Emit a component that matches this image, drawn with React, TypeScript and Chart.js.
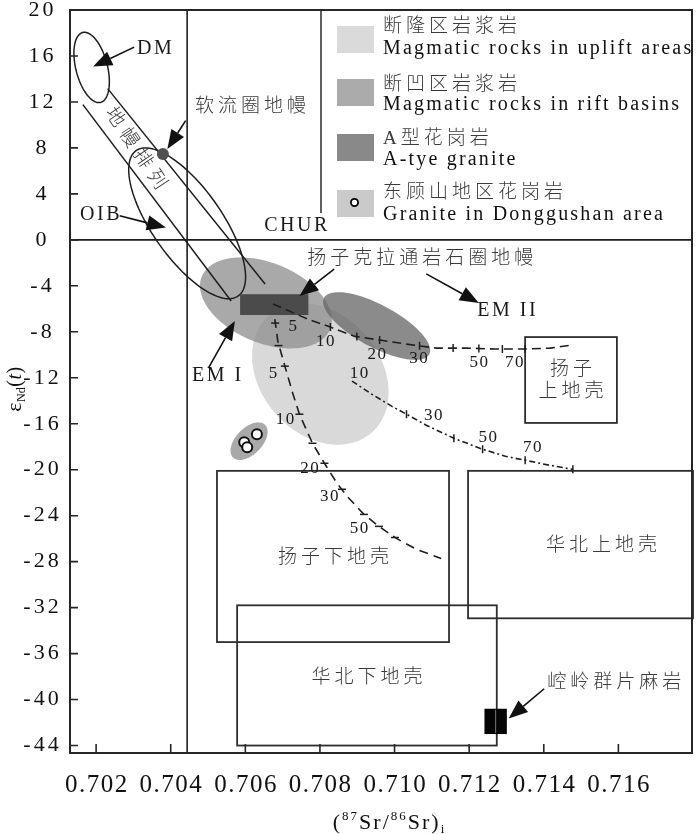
import React, { useEffect, useRef } from 'react';
import { Chart, registerables } from 'chart.js';
Chart.register(...registerables);

// ---------- axes ----------
const X_MIN = 0.7013;
const X_MAX = 0.718;
const Y_MIN = -44.65;
const Y_MAX = 20;
const xTickValues = [0.702, 0.704, 0.706, 0.708, 0.71, 0.712, 0.714, 0.716];
const xTickLabels = ['0.702', '0.704', '0.706', '0.708', '0.710', '0.712', '0.714', '0.716'];
const yTickValues = [-44, -40, -36, -32, -28, -24, -20, -16, -12, -8, -4, 0, 4, 8, 12, 16, 20];
const yTickLabels = ['-44', '-40', '-36', '-32', '-28', '-24', '-20', '-16', '-12', '-8', '-4', '0', '4', '8', '12', '16', '20'];

// ---------- reference lines ----------
const bulkEarthSr = 0.70444;
const churNd = 0;

// ---------- fields: ellipses [cx, cy, majorEndX, majorEndY, minorEndX, minorEndY] ----------
const upliftEllipse = [0.70801, -11.68, 0.7094, -16.74, 0.7092, -8.19];
const riftEllipse = [0.70655, -5.49, 0.70827, -7.78, 0.70695, -2.26];
const aTypeEllipse = [0.70952, -7.5, 0.71093, -9.96, 0.70979, -5.88];
const donggushanEllipse = [0.7061, -17.52, 0.70653, -16.1, 0.70635, -18.33];
const dmEllipse = [0.70188, 15.0, 0.70212, 11.96, 0.70229, 15.34];
const oibEllipse = [0.70444, 1.44, 0.70581, -4.88, 0.7052, 3.21];

// mantle array band lines [x1, y1, x2, y2]
const mantleArrayLine1 = [0.701645, 11.77, 0.70562, -5.32];
const mantleArrayLine2 = [0.70231, 13.16, 0.70653, -3.84];

// ---------- rectangles [x1, y1, x2, y2] ----------
const yangtzeLithMantle = [0.70586, -4.73, 0.70769, -6.54];
const yangtzeUpperCrust = [0.7135, -8.46, 0.71596, -15.93];
const yangtzeLowerCrust = [0.70524, -20.1, 0.71146, -35.0];
const northChinaUpperCrust = [0.71197, -20.1, 0.718, -32.93];
const northChinaLowerCrust = [0.70578, -31.8, 0.71274, -44.0];
const konglingGneiss = [0.71241, -40.8, 0.71301, -43.0];

// ---------- samples ----------
const donggushanX = [0.70597, 0.70605, 0.70631];
const donggushanY = [-17.61, -18.05, -16.91];
const asthenosphereX = [0.70379];
const asthenosphereY = [7.47];

// ---------- mixing curves ----------
const curve1X = [0.70674, 0.70767, 0.70828, 0.70891, 0.7096, 0.71032, 0.71112, 0.71191, 0.71271, 0.7135, 0.71417, 0.71475];
const curve1Y = [-5.58, -6.89, -7.59, -8.37, -8.72, -9.07, -9.42, -9.42, -9.5, -9.5, -9.42, -9.15];
const curve1TickX = [0.70828, 0.70899, 0.7096, 0.71067, 0.71157, 0.71226, 0.71289, 0.7135];
const curve1TickY = [-7.59, -8.41, -8.72, -9.22, -9.42, -9.46, -9.5, -9.5];
const curve1Labels = ['5', '10', '20', '30', '50', '70'];
const curve1LabelX = [0.70727, 0.70814, 0.70952, 0.71064, 0.71226, 0.71321];
const curve1LabelY = [-7.5, -8.89, -9.94, -10.29, -10.68, -10.68];

const curve2X = [0.70679, 0.70687, 0.70706, 0.70727, 0.70745, 0.7078, 0.70812, 0.70846, 0.70873, 0.70918, 0.70958, 0.71005, 0.71059, 0.71125];
const curve2Y = [-6.89, -8.81, -10.99, -13.34, -15.17, -17.7, -19.44, -21.19, -22.32, -23.89, -24.93, -25.98, -26.94, -27.72];
const curve2TickX = [0.7068, 0.70689, 0.70706, 0.70745, 0.7078, 0.70812, 0.70859, 0.70918, 0.70958, 0.71001];
const curve2TickY = [-7.24, -9.2, -10.99, -15.17, -17.7, -19.44, -21.7, -23.89, -24.93, -25.9];
const curve2Labels = ['5', '10', '20', '30', '50'];
const curve2LabelX = [0.70674, 0.70706, 0.70772, 0.70825, 0.70905];
const curve2LabelY = [-11.6, -15.61, -19.88, -22.32, -25.11];

const curve3X = [0.70886, 0.70939, 0.70992, 0.71032, 0.71085, 0.71159, 0.71236, 0.71297, 0.7135, 0.71417, 0.71478];
const curve3Y = [-12.29, -13.43, -14.47, -15.17, -16.13, -17.26, -18.22, -18.83, -19.18, -19.62, -19.97];
const curve3TickX = [0.71032, 0.71159, 0.71236, 0.7135, 0.71478];
const curve3TickY = [-15.17, -17.26, -18.22, -19.18, -19.97];
const curve3Labels = ['10', '30', '50', '70'];
const curve3LabelX = [0.70905, 0.71104, 0.7125, 0.71369];
const curve3LabelY = [-11.6, -15.3, -17.2, -18.1];

// ---------- annotations ----------
const annotTexts = ['DM', '软流圈地幔', 'OIB', 'CHUR', '扬子克拉通岩石圈地幔', 'EM II', 'EM I', '扬子', '上地壳', '扬子下地壳', '华北上地壳', '华北下地壳', '崆岭群片麻岩'];
const annotX = [0.70356, 0.70614, 0.7021, 0.70735, 0.71069, 0.713, 0.70523, 0.71473, 0.71473, 0.70836, 0.71555, 0.70926, 0.71589];
const annotY = [16.65, 11.6, 2.22, 1.22, -1.66, -6.19, -11.86, -11.29, -13.25, -27.72, -26.68, -38.1, -38.54];
const bandLabel = '地幔排列';
const bandLabelX = 0.70305;
const bandLabelY = 7.93;

const arrowFromX = [0.70302, 0.7044, 0.70263, 0.70838, 0.70501, 0.71085, 0.71401];
const arrowFromY = [16.77, 10.37, 2.09, -2.55, -11.16, -2.96, -39.06];
const arrowToX = [0.70192, 0.70391, 0.70387, 0.70745, 0.70572, 0.71226, 0.71306];
const arrowToY = [15.08, 7.91, 1.07, -4.88, -7.06, -5.49, -41.65];

// ---------- legend ----------
const legendZh = ['断隆区岩浆岩', '断凹区岩浆岩', 'A型花岗岩', '东顾山地区花岗岩'];
const legendEn = ['Magmatic rocks in uplift areas', 'Magmatic rocks in rift basins', 'A-tye granite', 'Granite in Donggushan area'];
const legendColors = ['#dadada', '#ababab', '#898989', '#cacaca'];

const FONT = '"Liberation Serif", "Noto Sans CJK SC", serif';

function isCJK(s: string) {
  return /[\u4e00-\u9fff]/.test(s);
}

function drawText(ctx: any, s: string, x: number, y: number, o: any = {}) {
  ctx.save();
  const size = o.size || 20;
  ctx.font = `${o.style || ''} ${o.weight || ''} ${size}px ${FONT}`;
  const sp = o.spacing ?? 0;
  if ('letterSpacing' in ctx) ctx.letterSpacing = sp + 'px';
  ctx.fillStyle = o.color || '#1a1a1a';
  ctx.textAlign = o.align || 'center';
  ctx.textBaseline = o.baseline || 'middle';
  ctx.translate(x, y);
  if (o.rotate) ctx.rotate(o.rotate);
  ctx.fillText(s, (o.align || 'center') === 'center' ? sp / 2 : 0, 0);
  ctx.restore();
}

const ZH = { size: 19, spacing: 4, color: '#3a3a3a', weight: '300' };

function ellipsePath(ctx: any, e: number[], px: any, py: any) {
  const cx = px(e[0]);
  const cy = py(e[1]);
  const ux = px(e[2]) - cx;
  const uy = py(e[3]) - cy;
  const vx = px(e[4]) - cx;
  const vy = py(e[5]) - cy;
  ctx.beginPath();
  const n = 120;
  for (let i = 0; i <= n; i++) {
    const t = (i / n) * Math.PI * 2;
    const X = cx + ux * Math.cos(t) + vx * Math.sin(t);
    const Y = cy + uy * Math.cos(t) + vy * Math.sin(t);
    if (i === 0) ctx.moveTo(X, Y);
    else ctx.lineTo(X, Y);
  }
  ctx.closePath();
}

function drawArrow(ctx: any, x1: number, y1: number, x2: number, y2: number) {
  const ang = Math.atan2(y2 - y1, x2 - x1);
  const L = 19;
  const W = 7.5;
  const bx = x2 - L * Math.cos(ang);
  const by = y2 - L * Math.sin(ang);
  ctx.beginPath();
  ctx.moveTo(x1, y1);
  ctx.lineTo(bx, by);
  ctx.stroke();
  ctx.beginPath();
  ctx.moveTo(x2, y2);
  ctx.lineTo(bx - W * Math.sin(ang), by + W * Math.cos(ang));
  ctx.lineTo(bx + W * Math.sin(ang), by - W * Math.cos(ang));
  ctx.closePath();
  ctx.fill();
}

const diagramPlugin = {
  id: 'diagram',
  beforeDatasetsDraw(chart: any) {
    const { ctx, scales, chartArea: a } = chart;
    const px = (v: number) => scales.x.getPixelForValue(v);
    const py = (v: number) => scales.y.getPixelForValue(v);
    ctx.save();
    // filled fields
    ellipsePath(ctx, upliftEllipse, px, py);
    ctx.fillStyle = '#d9d9d9';
    ctx.fill();
    ellipsePath(ctx, riftEllipse, px, py);
    ctx.fillStyle = 'rgba(140,140,140,0.75)';
    ctx.fill();
    ellipsePath(ctx, aTypeEllipse, px, py);
    ctx.fillStyle = 'rgba(100,100,100,0.75)';
    ctx.fill();
    ellipsePath(ctx, donggushanEllipse, px, py);
    ctx.fillStyle = '#a9a9a9';
    ctx.fill();

    // reference lines
    ctx.strokeStyle = '#1e1e1e';
    ctx.lineWidth = 1.6;
    ctx.beginPath();
    ctx.moveTo(px(bulkEarthSr), a.top);
    ctx.lineTo(px(bulkEarthSr), a.bottom);
    ctx.moveTo(a.left, py(churNd));
    ctx.lineTo(a.right, py(churNd));
    ctx.stroke();

    // mantle array
    ctx.lineWidth = 1.5;
    for (const l of [mantleArrayLine1, mantleArrayLine2]) {
      ctx.beginPath();
      ctx.moveTo(px(l[0]), py(l[1]));
      ctx.lineTo(px(l[2]), py(l[3]));
      ctx.stroke();
    }
    ellipsePath(ctx, dmEllipse, px, py);
    ctx.stroke();
    ellipsePath(ctx, oibEllipse, px, py);
    ctx.stroke();

    // lithospheric mantle rectangle
    const r = yangtzeLithMantle;
    ctx.fillStyle = '#4b4b4b';
    ctx.fillRect(px(r[0]), py(r[1]), px(r[2]) - px(r[0]), py(r[3]) - py(r[1]));

    // crust boxes
    ctx.strokeStyle = '#2e2e2e';
    ctx.lineWidth = 1.8;
    for (const b of [yangtzeUpperCrust, yangtzeLowerCrust, northChinaUpperCrust, northChinaLowerCrust]) {
      ctx.strokeRect(px(b[0]), py(b[1]), px(b[2]) - px(b[0]), py(b[3]) - py(b[1]));
    }
    // Kongling gneiss
    const k = konglingGneiss;
    ctx.fillStyle = '#050505';
    ctx.fillRect(px(k[0]), py(k[1]), px(k[2]) - px(k[0]), py(k[3]) - py(k[1]));
    ctx.strokeStyle = '#777';
    ctx.lineWidth = 1;
    const mid = (px(k[0]) + px(k[2])) / 2;
    ctx.beginPath();
    ctx.moveTo(mid, py(k[1]) + 1);
    ctx.lineTo(mid, py(k[3]) - 1);
    ctx.stroke();
    ctx.restore();
  },
  afterDatasetsDraw(chart: any) {
    const { ctx, scales, chartArea: a } = chart;
    const px = (v: number) => scales.x.getPixelForValue(v);
    const py = (v: number) => scales.y.getPixelForValue(v);
    ctx.save();

    // curve labels
    const curveLabel = (labels: string[], xs: number[], ys: number[]) => {
      labels.forEach((s, i) => drawText(ctx, s, px(xs[i]), py(ys[i]), { size: 17, spacing: 1.5 }));
    };
    curveLabel(curve1Labels, curve1LabelX, curve1LabelY);
    curveLabel(curve2Labels, curve2LabelX, curve2LabelY);
    curveLabel(curve3Labels, curve3LabelX, curve3LabelY);

    // arrows
    ctx.strokeStyle = '#111';
    ctx.fillStyle = '#111';
    ctx.lineWidth = 1.6;
    arrowFromX.forEach((_, i) => drawArrow(ctx, px(arrowFromX[i]), py(arrowFromY[i]), px(arrowToX[i]), py(arrowToY[i])));

    // annotation texts
    annotTexts.forEach((s, i) => {
      const cjk = isCJK(s);
      drawText(ctx, s, px(annotX[i]), py(annotY[i]), cjk ? ZH : { size: 20, spacing: 2.5 });
    });
    drawText(ctx, bandLabel, px(bandLabelX), py(bandLabelY), { ...ZH, spacing: 6, rotate: (56 * Math.PI) / 180 });

    // legend
    ctx.strokeStyle = '#2a2a2a';
    ctx.lineWidth = 1.5;
    ctx.beginPath();
    ctx.moveTo(321, a.top);
    ctx.lineTo(321, 213);
    ctx.stroke();
    const swTop = [26, 79, 134, 190];
    const zhY = [27.5, 85, 139, 193.4];
    const enY = [53.5, 110, 165, 220];
    legendColors.forEach((c, i) => {
      ctx.fillStyle = c;
      ctx.fillRect(337, swTop[i], 37, 27);
      drawText(ctx, legendZh[i], 383, zhY[i], { ...ZH, align: 'left' });
      drawText(ctx, legendEn[i], 383, enY[i], { size: 20, spacing: 2.2, align: 'left', baseline: 'alphabetic', color: '#111' });
    });
    ctx.beginPath();
    ctx.arc(354.5, 202.5, 3.6, 0, Math.PI * 2);
    ctx.fillStyle = '#fff';
    ctx.fill();
    ctx.lineWidth = 1.8;
    ctx.strokeStyle = '#000';
    ctx.stroke();

    // frame
    ctx.strokeStyle = '#262626';
    ctx.lineWidth = 2;
    ctx.strokeRect(a.left, a.top, a.right - a.left - 1, a.bottom - a.top);

    // inward ticks
    ctx.lineWidth = 1.6;
    ctx.beginPath();
    scales.y.ticks.forEach((t: any) => {
      const y = py(t.value);
      ctx.moveTo(a.left, y);
      ctx.lineTo(a.left + 8, y);
    });
    scales.x.ticks.forEach((t: any) => {
      const x = px(t.value);
      ctx.moveTo(x, a.bottom);
      ctx.lineTo(x, a.bottom - 9);
    });
    ctx.stroke();

    // tick labels
    scales.y.ticks.forEach((t: any) => {
      const i = yTickValues.indexOf(t.value);
      drawText(ctx, yTickLabels[i], 41, py(t.value), { size: 22, spacing: 3, color: '#111' });
    });
    scales.x.ticks.forEach((t: any) => {
      const i = xTickValues.indexOf(t.value);
      drawText(ctx, xTickLabels[i], px(t.value), 792, { size: 25, spacing: 1.5, baseline: 'alphabetic', color: '#111' });
    });

    // x title: (87Sr/86Sr)i
    const segs: [string, number, number][] = [
      ['(', 22, 0],
      ['87', 13, -9],
      ['Sr/', 22, 0],
      ['86', 13, -9],
      ['Sr)', 22, 0],
      ['i', 13, 4],
    ];
    const widthOf = (s: string, size: number) => {
      ctx.font = `${size}px ${FONT}`;
      return ctx.measureText(s).width + s.length * 2;
    };
    let total = 0;
    segs.forEach(([s, sz]) => (total += widthOf(s, sz)));
    let xx = 389.5 - total / 2;
    segs.forEach(([s, sz, dy]) => {
      drawText(ctx, s, xx, 829 + dy, { size: sz, spacing: 2, align: 'left', baseline: 'alphabetic', color: '#111' });
      xx += widthOf(s, sz);
    });

    // y title: εNd(t)
    ctx.save();
    ctx.translate(21, 389);
    ctx.rotate(-Math.PI / 2);
    const ysegs: [string, number, number, string][] = [
      ['ε', 22, 0, ''],
      ['Nd', 12, 4, ''],
      ['(', 20, 0, ''],
      ['t', 20, 0, 'italic'],
      [')', 20, 0, ''],
    ];
    const wOf = (s: string, size: number, st: string) => {
      ctx.font = `${st} ${size}px ${FONT}`;
      return ctx.measureText(s).width + 0.5;
    };
    let yt = 0;
    ysegs.forEach(([s, sz, , st]) => (yt += wOf(s, sz, st)));
    let cx = -yt / 2;
    ysegs.forEach(([s, sz, dy, st]) => {
      drawText(ctx, s, cx, dy, { size: sz, style: st, align: 'left', baseline: 'alphabetic', color: '#111' });
      cx += wOf(s, sz, st);
    });
    ctx.restore();

    ctx.restore();
  },
};

const pts = (xs: number[], ys: number[]) => xs.map((v, i) => ({ x: v, y: ys[i] }));

export default function App() {
  const ref = useRef<HTMLCanvasElement>(null);
  useEffect(() => {
    document.body.style.margin = '0';
    const canvas = ref.current!;
    const curveStyle = { showLine: true, borderColor: '#1e1e1e', borderWidth: 1.6, pointRadius: 0, fill: false };
    const tickStyle = { showLine: false, pointStyle: 'line', pointRadius: 4, borderColor: '#1e1e1e', borderWidth: 1.5 };
    const chart = new Chart(canvas, {
      type: 'scatter',
      data: {
        datasets: [
          { label: 'mixing 1', data: pts(curve1X, curve1Y), ...curveStyle, borderDash: [9, 5] },
          { label: 'mixing 2', data: pts(curve2X, curve2Y), ...curveStyle, borderDash: [9, 6] },
          { label: 'mixing 3', data: pts(curve3X, curve3Y), ...curveStyle, borderDash: [6, 3, 2, 3] },
          { label: 'ticks 1', data: pts(curve1TickX, curve1TickY), ...tickStyle, rotation: 90 },
          { label: 'ticks 2', data: pts(curve2TickX, curve2TickY), ...tickStyle, rotation: 0 },
          { label: 'ticks 3', data: pts(curve3TickX, curve3TickY), ...tickStyle, rotation: 90 },
          { label: 'Donggushan granite', data: pts(donggushanX, donggushanY), pointRadius: 5, backgroundColor: '#ffffff', borderColor: '#111', borderWidth: 2 },
          { label: 'asthenospheric mantle', data: pts(asthenosphereX, asthenosphereY), pointRadius: 6, backgroundColor: '#505050', borderWidth: 0 },
        ] as any,
      },
      options: {
        responsive: false,
        animation: false,
        devicePixelRatio: 1,
        events: [],
        layout: { padding: { top: 10, right: 1, left: 0, bottom: 0 } },
        plugins: { legend: { display: false }, tooltip: { enabled: false } },
        scales: {
          x: {
            type: 'linear',
            min: X_MIN,
            max: X_MAX,
            grid: { display: false },
            border: { display: false },
            ticks: { display: false },
            afterBuildTicks: (s: any) => {
              s.ticks = xTickValues.map((v) => ({ value: v }));
            },
            afterFit: (s: any) => {
              s.height = 81;
            },
          },
          y: {
            type: 'linear',
            min: Y_MIN,
            max: Y_MAX,
            grid: { display: false },
            border: { display: false },
            ticks: { display: false },
            afterBuildTicks: (s: any) => {
              s.ticks = yTickValues.map((v) => ({ value: v }));
            },
            afterFit: (s: any) => {
              s.width = 70;
            },
          },
        },
      } as any,
      plugins: [diagramPlugin],
    });
    return () => chart.destroy();
  }, []);
  return <canvas ref={ref} width={700} height={834} style={{ display: 'block', width: 700, height: 834 }} />;
}
